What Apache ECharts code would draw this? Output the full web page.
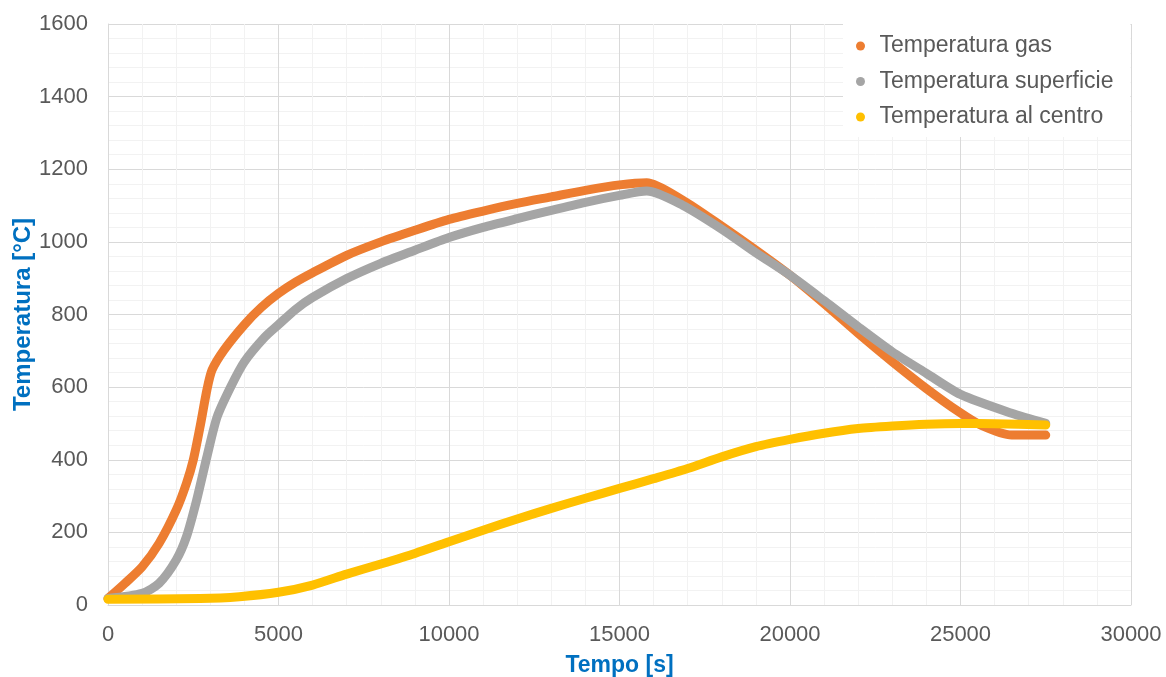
<!DOCTYPE html>
<html>
<head>
<meta charset="utf-8">
<script src="https://cdn.jsdelivr.net/npm/echarts@6/dist/echarts.min.js"></script>
<style>
html,body{margin:0;padding:0;background:#fff;}
#chart{width:1166px;height:677px;}
</style>
</head>
<body>
<div id="chart"></div>
<script>
const seriesNames = ['Temperatura gas', 'Temperatura superficie', 'Temperatura al centro'];

const gasTime = [0, 500, 1000, 1500, 2000, 2300, 2500, 2700, 2900, 3050, 3400, 4000, 4500, 5000, 5500, 6000, 7000, 8000, 9000, 10000, 11000, 12000, 13000, 14000, 15000, 15800, 16850, 18000, 19000, 20000, 21000, 22000, 23000, 24000, 24950, 25600, 26500, 27500];
const gasTemp = [18, 60, 105, 170, 261, 335, 399, 491, 592, 647, 702, 772, 820, 858, 889, 915, 963, 1000, 1032, 1062, 1085, 1106, 1124, 1142, 1157, 1163, 1115, 1043, 977, 908, 830, 748, 670, 596, 532, 495, 468, 468];

const surfTime = [0, 1000, 1500, 2000, 2300, 2600, 2900, 3200, 3600, 4000, 4600, 5000, 5500, 6000, 7000, 8000, 9000, 10000, 11000, 12000, 13000, 14000, 15000, 15800, 16850, 18000, 19000, 20000, 21000, 22000, 23000, 24000, 25000, 26500, 27500];
const surfTemp = [18, 32, 60, 124, 188, 289, 408, 518, 601, 670, 738, 772, 814, 847, 899, 941, 977, 1012, 1040, 1064, 1087, 1109, 1128, 1140, 1101, 1035, 970, 908, 838, 766, 697, 638, 580, 528, 500];

const coreTime = [0, 2700, 3850, 5000, 6000, 7000, 8000, 9000, 10000, 11000, 12000, 13000, 14000, 15000, 16000, 17000, 18000, 19000, 20000, 21000, 22000, 23000, 24000, 25000, 26000, 27500];
const coreTemp = [16, 18, 23, 35, 55, 85, 113, 142, 174, 206, 237, 266, 294, 321, 348, 376, 408, 436, 456, 473, 486, 493, 498, 500, 499, 496];

const xTitle = 'Tempo [s]';
const yTitle = 'Temperatura [°C]';
const colors = ['#ED7D31', '#A5A5A5', '#FFC000'];

function pairs(t, v) { return t.map((x, i) => [x, v[i]]); }

const chart = echarts.init(document.getElementById('chart'), null, {renderer: 'canvas'});
const font = '"Liberation Sans", Arial, sans-serif';

function mkSeries(name, t, v, color) {
  return {
    name: name,
    type: 'line',
    data: pairs(t, v),
    symbol: 'none',
    smooth: 0.25,
    lineStyle: {color: color, width: 9, cap: 'round', join: 'round'},
    itemStyle: {color: color},
    animation: false
  };
}

chart.setOption({
  animation: false,
  textStyle: {fontFamily: font},
  grid: {left: 108, right: 35, top: 24, bottom: 72, containLabel: false, outerBoundsMode: 'none'},
  legend: {
    orient: 'vertical',
    left: 843,
    top: 24,
    padding: [9, 17, 7, 13],
    backgroundColor: '#ffffff',
    icon: 'circle',
    itemWidth: 28,
    itemHeight: 9,
    itemGap: 9.5,
    textStyle: {fontSize: 23, color: '#595959', fontFamily: font, lineHeight: 26},
    data: seriesNames
  },
  xAxis: {
    type: 'value',
    min: 0, max: 30000, interval: 5000,
    name: xTitle,
    nameLocation: 'middle',
    nameGap: 49,
    nameMoveOverlap: false,
    nameTextStyle: {fontSize: 23, fontWeight: 'bold', color: '#0070C0', fontFamily: font},
    axisLine: {show: true, lineStyle: {color: '#D9D9D9', width: 1}},
    axisTick: {show: false},
    axisLabel: {fontSize: 22, color: '#595959', margin: 19, fontFamily: font, formatter: v => String(v)},
    splitLine: {show: true, lineStyle: {color: '#D9D9D9', width: 1}},
    minorTick: {show: false, splitNumber: 5},
    minorSplitLine: {show: true, lineStyle: {color: '#F2F2F2', width: 1}}
  },
  yAxis: {
    type: 'value',
    min: 0, max: 1600, interval: 200,
    name: yTitle,
    nameLocation: 'middle',
    nameGap: 73,
    nameMoveOverlap: false,
    nameTextStyle: {fontSize: 24, fontWeight: 'bold', color: '#0070C0', fontFamily: font},
    axisLine: {show: true, lineStyle: {color: '#D9D9D9', width: 1}},
    axisTick: {show: false},
    axisLabel: {fontSize: 22, color: '#595959', margin: 20, fontFamily: font, formatter: v => String(v)},
    splitLine: {show: true, lineStyle: {color: '#D9D9D9', width: 1}},
    minorTick: {show: false, splitNumber: 5},
    minorSplitLine: {show: true, lineStyle: {color: '#F2F2F2', width: 1}}
  },
  series: [
    mkSeries(seriesNames[0], gasTime, gasTemp, colors[0]),
    mkSeries(seriesNames[1], surfTime, surfTemp, colors[1]),
    mkSeries(seriesNames[2], coreTime, coreTemp, colors[2])
  ]
});
</script>
</body>
</html>
